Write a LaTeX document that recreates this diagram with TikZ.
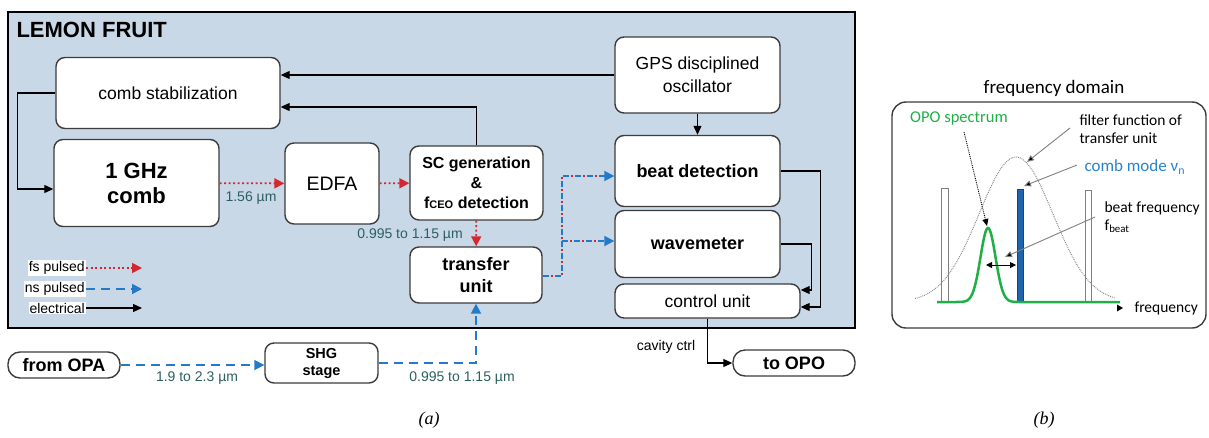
\documentclass[tikz,border=0pt]{standalone}
\usepackage{fontspec}
\setmainfont{Liberation Sans}
\newfontfamily\calfont{Carlito}
\newfontfamily\serfont{Liberation Serif}
\usetikzlibrary{arrows.meta}

\definecolor{panelbg}{RGB}{201,216,231}
\definecolor{boxline}{RGB}{60,60,60}
\definecolor{fsred}{RGB}{214,38,46}
\definecolor{nsblue}{RGB}{34,122,200}
\definecolor{lbltxt}{RGB}{45,95,95}
\definecolor{opogreen}{RGB}{30,175,70}
\definecolor{combblue}{RGB}{30,100,175}
\definecolor{modeblue}{RGB}{40,130,205}

\tikzset{
	blk/.style={draw=boxline, line width=1.4pt, fill=white, rounded corners=9pt, align=center, inner sep=2pt},
	elec/.style={line width=1.1pt, -{Triangle[length=9pt,width=8pt]}},
	fs/.style={fsred, line width=1.8pt, dash pattern=on 2pt off 2.5pt, -{Triangle[length=10pt,width=10pt]}},
	ns/.style={nsblue, line width=1.8pt, dash pattern=on 9pt off 6pt, -{Triangle[length=10pt,width=10pt]}},
	mixb/.style={nsblue, line width=1.8pt, dash pattern=on 6pt off 6pt, -{Triangle[length=10pt,width=10pt]}},
	mixr/.style={fsred, line width=1.8pt, dash pattern=on 0pt off 8pt on 2pt off 2pt, shorten >=10pt},
	legtxt/.style={fill=white, inner sep=1pt, font=\fontsize{14}{16}\selectfont},
	wl/.style={text=lbltxt, font=\fontsize{14}{16}\selectfont},
	pointer/.style={draw=gray, line width=0.9pt, -{Triangle[length=7pt,width=6pt,fill=black]}},
	ctxt/.style={font=\calfont\fontsize{15.5}{18}\selectfont, align=left}
}

\begin{document}
\begin{tikzpicture}[x=1pt,y=-1pt]
	\useasboundingbox (0,0) rectangle (1209,437);
	\draw[line width=2.4pt, fill=panelbg] (8,12) rectangle (855,328);
	\node[anchor=west, font=\fontsize{22}{25}\bfseries\selectfont] (title) at (13,30) {LEMON FRUIT};

	\node[blk, minimum width=224pt, minimum height=71pt, font=\fontsize{17.5}{20}\selectfont] (stab) at (168,93) {comb stabilization};
	\node[blk, minimum width=165pt, minimum height=87pt, font=\fontsize{22}{25}\bfseries\selectfont] (comb) at (136.5,183) {1 GHz\\comb};
	\node[blk, minimum width=94pt, minimum height=81pt, font=\fontsize{19.5}{22}\selectfont] (edfa) at (332,183.5) {EDFA};
	\node[blk, minimum width=133pt, minimum height=74pt, font=\fontsize{16}{20}\bfseries\selectfont] (scgen) at (476.5,183) {SC generation\\\&\\f{\fontsize{11}{11}\selectfont CEO} detection};
	\node[blk, minimum width=165pt, minimum height=76pt, font=\fontsize{17.5}{23}\selectfont] (gps) at (697.5,75) {GPS disciplined\\oscillator};
	\node[blk, minimum width=165pt, minimum height=71pt, font=\fontsize{18}{21}\bfseries\selectfont] (beat) at (697.5,171) {beat detection};
	\node[blk, minimum width=165pt, minimum height=67pt, font=\fontsize{18}{21}\bfseries\selectfont] (wave) at (697.5,244) {wavemeter};
	\node[blk, minimum width=185pt, minimum height=34pt, font=\fontsize{17.5}{20}\selectfont] (ctrl) at (707.5,301) {control unit};
	\node[blk, minimum width=132pt, minimum height=56pt, font=\fontsize{18}{22}\bfseries\selectfont] (transfer) at (476,275) {transfer\\unit};
	\node[blk, rounded corners=12pt, minimum width=112pt, minimum height=26pt, font=\fontsize{18}{21}\bfseries\selectfont] (opa) at (64,365) {from OPA};
	\node[blk, minimum width=113pt, minimum height=40pt, font=\fontsize{14.5}{17}\bfseries\selectfont] (shg) at (321.5,363) {SHG\\stage};
	\node[blk, rounded corners=12pt, minimum width=122pt, minimum height=26pt, font=\fontsize{18}{21}\bfseries\selectfont] (opo) at (794,363) {to OPO};

	\draw[elec] (gps.west) -- (gps.west -| stab.east);
	\draw[elec] (scgen.north) |- ([yshift=-14pt]stab.east);
	\draw[elec] (stab.west) -- ++(-38,0) |- ([yshift=-6pt]comb.west);
	\draw[elec] (gps) -- (beat);
	\draw[elec] (beat.east) -- ++(40,0) |- ([yshift=-6pt]ctrl.east);
	\draw[elec] (wave.east) -- ++(31,0) |- ([yshift=11pt]ctrl.east);
	\draw[elec] (ctrl.south) |- (opo.west);

	\draw[fs] (comb) -- (edfa);
	\draw[fs] (edfa) -- (scgen);
	\draw[fs] (scgen) -- (transfer);
	\draw[ns] (opa.east) -- (opa.east -| shg.west);
	\draw[ns] (shg.east) -| (transfer.south);

	\coordinate (jct) at (562,276);
	\coordinate (jwv) at (562,241);
	\foreach \st in {mixb, mixr} {
		\draw[\st] (transfer.east |- jct) -- (jct) |- ([yshift=-5pt]beat.west);
		\draw[\st] (jwv) -- (jwv -| wave.west);
	}

	\node[wl] (l156) at (251,198) {1.56 µm};
	\node[wl] (lsc) at (410,235) {0.995 to 1.15 µm};
	\node[wl] (lopa) at (197,378) {1.9 to 2.3 µm};
	\node[wl] (lshg) at (462,378) {0.995 to 1.15 µm};
	\node[font=\fontsize{14}{16}\selectfont] (cav) at (666,347) {cavity ctrl};

	\foreach \lab/\st/\yy/\nm in {fs pulsed/fs/268/lfs, ns pulsed/ns/289/lns, electrical/elec/308/lel} {
		\node[legtxt, anchor=east] (\nm) at (86,\yy) {\lab};
		\coordinate (\nm end) at (142,\yy);
		\draw[\st] (\nm.east) -- (\nm end);
	}

	\node[font=\calfont\fontsize{19}{22}\selectfont] (fdom) at (1054,88) {frequency domain};
	\draw[boxline, line width=1.4pt, rounded corners=14pt] (892,102) rectangle (1206,328);

	\draw[gray, line width=1pt, fill=white] (941,188) rectangle (948,302);
	\draw[gray, line width=1pt, fill=white] (1085,190) rectangle (1091,302);
	\draw[combblue!70!black, line width=0.6pt, fill=combblue] (1017,189) rectangle (1023,302);
	\draw[gray, densely dotted, line width=0.9pt, domain=915:1115, samples=120] plot (\x, {302-145*exp(-((\x-1016)^2)/2738)});
	\draw[opogreen, line width=2.5pt, domain=937:1030, samples=120] plot (\x, {302-74*exp(-((\x-988)^2)/112.5)}) -- (1120,302);

	\node[ctxt, text=opogreen, font=\calfont\fontsize{16.5}{19}\selectfont] (opospec) at (959,118) {OPO spectrum};
	\node[ctxt, anchor=west] (filt) at (1076,129) {filter function of\\transfer unit};
	\node[ctxt, anchor=west, text=modeblue, font=\calfont\fontsize{17}{20}\selectfont] (cmode) at (1081,167) {comb mode ν\textsubscript{n}};
	\node[ctxt, anchor=west] (bfreq) at (1101,217) {beat frequency\\f\textsubscript{beat}};

	\coordinate (opopk) at (987,226);
	\coordinate (filtpk) at (1027,162);
	\coordinate (modetop) at (1024,186);
	\coordinate (beatarr) at (1005,257);
	\coordinate (dl) at (986,265);
	\coordinate (dr) at (1016,265);
	\draw[black, densely dotted, line width=0.9pt, -{Triangle[length=7pt,width=6pt]}] (964,132) -- (opopk);
	\draw[pointer] (1070,128) -- (filtpk);
	\draw[pointer] (1077,165) -- (modetop);
	\draw[pointer] (1095,217) -- (beatarr);
	\draw[line width=1pt, {Triangle[length=6pt,width=6pt]}-{Triangle[length=6pt,width=6pt]}] (dl) -- (dr);

	\fill (1117,304.5) -- (1123,308) -- (1117,311.5) -- cycle;
	\node[ctxt, anchor=west] (faxis) at (1131,308) {frequency};

	\node[font=\serfont\itshape\fontsize{18}{20}\selectfont] (capa) at (429,420) {(a)};
	\node[font=\serfont\itshape\fontsize{18}{20}\selectfont] (capb) at (1044,420) {(b)};
\end{tikzpicture}
\end{document}
